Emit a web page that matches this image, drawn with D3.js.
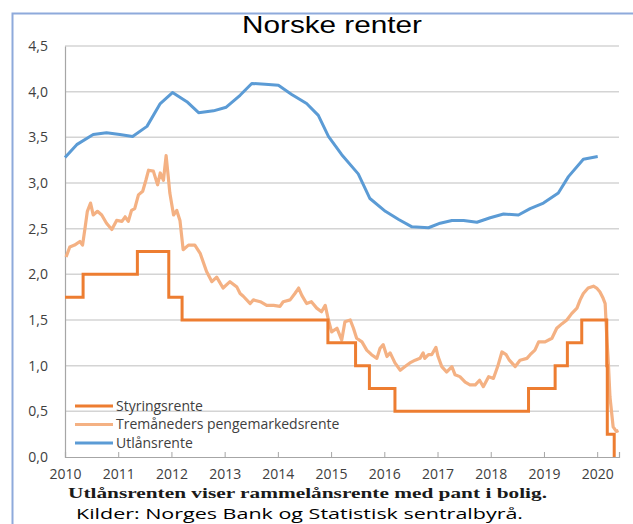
<!DOCTYPE html>
<html>
<head>
<meta charset="utf-8">
<script src="https://cdn.jsdelivr.net/npm/d3@7"></script>
<style>
  html, body { margin: 0; padding: 0; background: #fff; }
  svg { display: block; }
</style>
</head>
<body>
<svg id="chart" width="633" height="524"></svg>
<script>
// ---------- data ----------
const title = "Norske renter";
const seriesNames = ["Styringsrente", "Tremåneders pengemarkedsrente", "Utlånsrente"];
const seriesColors = ["#ed7d31", "#f4b183", "#5b9bd5"];
const yTicks = [0, 0.5, 1, 1.5, 2, 2.5, 3, 3.5, 4, 4.5];
const xTicks = [2010, 2011, 2012, 2013, 2014, 2015, 2016, 2017, 2018, 2019, 2020];
const note1 = "Utlånsrenten viser rammelånsrente med pant i bolig.";
const note2 = "Kilder: Norges Bank og Statistisk sentralbyrå.";

// Styringsrente (step changes: [year, rate])
const policyRate = [
  [2010.00, 1.75], [2010.34, 2.00], [2011.36, 2.25], [2011.95, 1.75], [2012.20, 1.50],
  [2014.94, 1.25], [2015.46, 1.00], [2015.72, 0.75], [2016.20, 0.50], [2018.71, 0.75],
  [2019.21, 1.00], [2019.44, 1.25], [2019.71, 1.50], [2020.18, 1.00], [2020.19, 0.25],
  [2020.32, 0.00]
];

// Tremåneders pengemarkedsrente ([year, rate])
const moneyMarket = [
  [2010.02, 2.19], [2010.09, 2.30], [2010.18, 2.32], [2010.28, 2.36], [2010.33, 2.32],
  [2010.38, 2.52], [2010.42, 2.69], [2010.48, 2.78], [2010.53, 2.65], [2010.61, 2.69],
  [2010.69, 2.65], [2010.78, 2.56], [2010.88, 2.49], [2010.97, 2.59], [2011.07, 2.58],
  [2011.13, 2.63], [2011.19, 2.58], [2011.25, 2.70], [2011.31, 2.72], [2011.38, 2.87],
  [2011.46, 2.91], [2011.52, 3.03], [2011.57, 3.14], [2011.66, 3.13], [2011.74, 2.98],
  [2011.79, 3.11], [2011.85, 3.03], [2011.90, 3.30], [2011.94, 3.07], [2011.97, 2.89],
  [2012.04, 2.65], [2012.10, 2.70], [2012.16, 2.59], [2012.22, 2.27], [2012.32, 2.32],
  [2012.44, 2.32], [2012.54, 2.23], [2012.66, 2.03], [2012.76, 1.92], [2012.85, 1.97],
  [2012.97, 1.85], [2013.10, 1.92], [2013.23, 1.86], [2013.29, 1.79], [2013.35, 1.76],
  [2013.48, 1.68], [2013.54, 1.72], [2013.67, 1.70], [2013.79, 1.66], [2013.92, 1.66],
  [2014.04, 1.65], [2014.10, 1.70], [2014.23, 1.72], [2014.32, 1.79], [2014.39, 1.85],
  [2014.45, 1.77], [2014.54, 1.68], [2014.63, 1.70], [2014.73, 1.63], [2014.82, 1.59],
  [2014.89, 1.66], [2014.95, 1.50], [2015.01, 1.37], [2015.11, 1.41], [2015.20, 1.28],
  [2015.26, 1.48], [2015.36, 1.50], [2015.42, 1.41], [2015.48, 1.30], [2015.58, 1.26],
  [2015.67, 1.17], [2015.76, 1.12], [2015.86, 1.08], [2015.92, 1.19], [2015.98, 1.23],
  [2016.05, 1.10], [2016.11, 1.14], [2016.20, 1.03], [2016.30, 0.95], [2016.39, 0.99],
  [2016.48, 1.03], [2016.58, 1.06], [2016.67, 1.08], [2016.73, 1.14], [2016.76, 1.08],
  [2016.83, 1.12], [2016.89, 1.12], [2016.97, 1.20], [2017.01, 1.10], [2017.08, 0.99],
  [2017.17, 0.93], [2017.27, 0.99], [2017.33, 0.90], [2017.42, 0.88], [2017.52, 0.82],
  [2017.61, 0.79], [2017.71, 0.79], [2017.79, 0.84], [2017.86, 0.77], [2017.96, 0.88],
  [2018.05, 0.86], [2018.13, 0.99], [2018.21, 1.15], [2018.29, 1.12], [2018.35, 1.06],
  [2018.46, 0.99], [2018.55, 1.06], [2018.68, 1.08], [2018.74, 1.12], [2018.83, 1.17],
  [2018.90, 1.26], [2019.02, 1.26], [2019.15, 1.30], [2019.24, 1.41], [2019.34, 1.46],
  [2019.43, 1.50], [2019.52, 1.57], [2019.62, 1.63], [2019.68, 1.72], [2019.74, 1.79],
  [2019.83, 1.85], [2019.93, 1.87], [2019.99, 1.85], [2020.05, 1.81], [2020.11, 1.74],
  [2020.15, 1.68], [2020.18, 1.32], [2020.21, 1.03], [2020.24, 0.66], [2020.30, 0.33],
  [2020.36, 0.28], [2020.40, 0.29]
];

// Utlånsrente ([year, rate])
const lendingRate = [
  [2010.00, 3.28], [2010.22, 3.42], [2010.53, 3.53], [2010.78, 3.55], [2011.03, 3.53],
  [2011.27, 3.51], [2011.54, 3.62], [2011.79, 3.87], [2012.02, 3.99], [2012.29, 3.89],
  [2012.51, 3.77], [2012.79, 3.79], [2013.03, 3.83], [2013.29, 3.96], [2013.51, 4.09],
  [2013.76, 4.08], [2014.01, 4.07], [2014.26, 3.97], [2014.54, 3.87], [2014.76, 3.74],
  [2014.95, 3.51], [2015.20, 3.31], [2015.51, 3.10], [2015.73, 2.83], [2016.02, 2.69],
  [2016.27, 2.60], [2016.52, 2.52], [2016.83, 2.51], [2017.05, 2.56], [2017.27, 2.59],
  [2017.49, 2.59], [2017.74, 2.57], [2017.99, 2.62], [2018.24, 2.66], [2018.52, 2.65],
  [2018.74, 2.72], [2018.99, 2.78], [2019.27, 2.89], [2019.46, 3.07], [2019.74, 3.26],
  [2020.01, 3.29]
];

// ---------- drawing ----------
const svg = d3.select("#chart");
const plot = { left: 65, right: 619, top: 46, bottom: 457 };

const x = d3.scaleLinear().domain([2010, 2020.41]).range([plot.left, plot.right]);
const y = d3.scaleLinear().domain([0, 4.5]).range([plot.bottom, plot.top]);

// frame
svg.append("path")
  .attr("d", `M12.5,524 L12.5,13.5 L633,13.5`)
  .attr("fill", "none").attr("stroke", "#8eaadb").attr("stroke-width", 2);

// gridlines
svg.append("g").selectAll("line")
  .data(yTicks.filter(d => d > 0))
  .join("line")
  .attr("x1", plot.left).attr("x2", plot.right)
  .attr("y1", d => y(d)).attr("y2", d => y(d))
  .attr("stroke", "#d4d4d4").attr("stroke-width", 1.5);

// y axis
const yAxis = d3.axisLeft(y).tickValues(yTicks).tickSize(0).tickPadding(17)
  .tickFormat(d => d3.format(".1f")(d).replace(".", ","));
const gy = svg.append("g").attr("transform", `translate(${plot.left},0)`).call(yAxis);
gy.select(".domain").attr("stroke", "#a6a6a6").attr("stroke-width", 1.2);
gy.selectAll("text").attr("font-family", "'Open Sans', sans-serif").attr("font-size", 14)
  .attr("fill", "#404040");

// x axis
const xAxis = d3.axisBottom(x).tickValues(xTicks).tickSize(-5).tickPadding(12)
  .tickFormat(d3.format("d"));
const gx = svg.append("g").attr("transform", `translate(0,${plot.bottom})`).call(xAxis);
gx.select(".domain").attr("stroke", "#a6a6a6").attr("stroke-width", 1.2);
gx.selectAll(".tick line").attr("stroke", "#a6a6a6");
gx.selectAll("text").attr("font-family", "'Open Sans', sans-serif").attr("font-size", 14)
  .attr("fill", "#404040");

// lines
const line = d3.line().x(d => x(d[0])).y(d => y(d[1]));
const stepLine = d3.line().x(d => x(d[0])).y(d => y(d[1])).curve(d3.curveStepAfter);

svg.append("path").datum(moneyMarket).attr("d", line)
  .attr("fill", "none").attr("stroke", seriesColors[1]).attr("stroke-width", 3.2)
  .attr("stroke-linejoin", "round");
svg.append("path").datum(policyRate).attr("d", stepLine)
  .attr("fill", "none").attr("stroke", seriesColors[0]).attr("stroke-width", 3);
svg.append("path").datum(lendingRate).attr("d", line)
  .attr("fill", "none").attr("stroke", seriesColors[2]).attr("stroke-width", 3)
  .attr("stroke-linejoin", "round");

// legend
const legend = svg.append("g").selectAll("g").data(seriesNames).join("g")
  .attr("transform", (d, i) => `translate(75,${406 + i * 18.5})`);
legend.append("line").attr("x1", 0).attr("x2", 38).attr("y1", 0).attr("y2", 0)
  .attr("stroke", (d, i) => seriesColors[i]).attr("stroke-width", 3);
legend.append("text").attr("x", 41).attr("y", 0).attr("dy", "0.35em")
  .attr("font-family", "'Open Sans', sans-serif").attr("font-size", 14).attr("fill", "#404040")
  .text(d => d);

// title
svg.append("text").attr("x", 332).attr("y", 33).attr("text-anchor", "middle")
  .attr("font-family", "'Liberation Sans', Arial, sans-serif").attr("font-size", 24)
  .attr("fill", "#000").attr("textLength", 180).attr("lengthAdjust", "spacingAndGlyphs")
  .text(title);

// notes
svg.append("text").attr("x", 68).attr("y", 498)
  .attr("font-family", "'Liberation Serif', 'Times New Roman', serif").attr("font-weight", "bold")
  .attr("font-size", 15.5).attr("fill", "#1a1a1a")
  .attr("textLength", 479).attr("lengthAdjust", "spacingAndGlyphs")
  .text(note1);
svg.append("text").attr("x", 76).attr("y", 519)
  .attr("font-family", "'Open Sans', sans-serif").attr("font-size", 14).attr("fill", "#000")
  .attr("textLength", 447).attr("lengthAdjust", "spacingAndGlyphs")
  .text(note2);
</script>
</body>
</html>
